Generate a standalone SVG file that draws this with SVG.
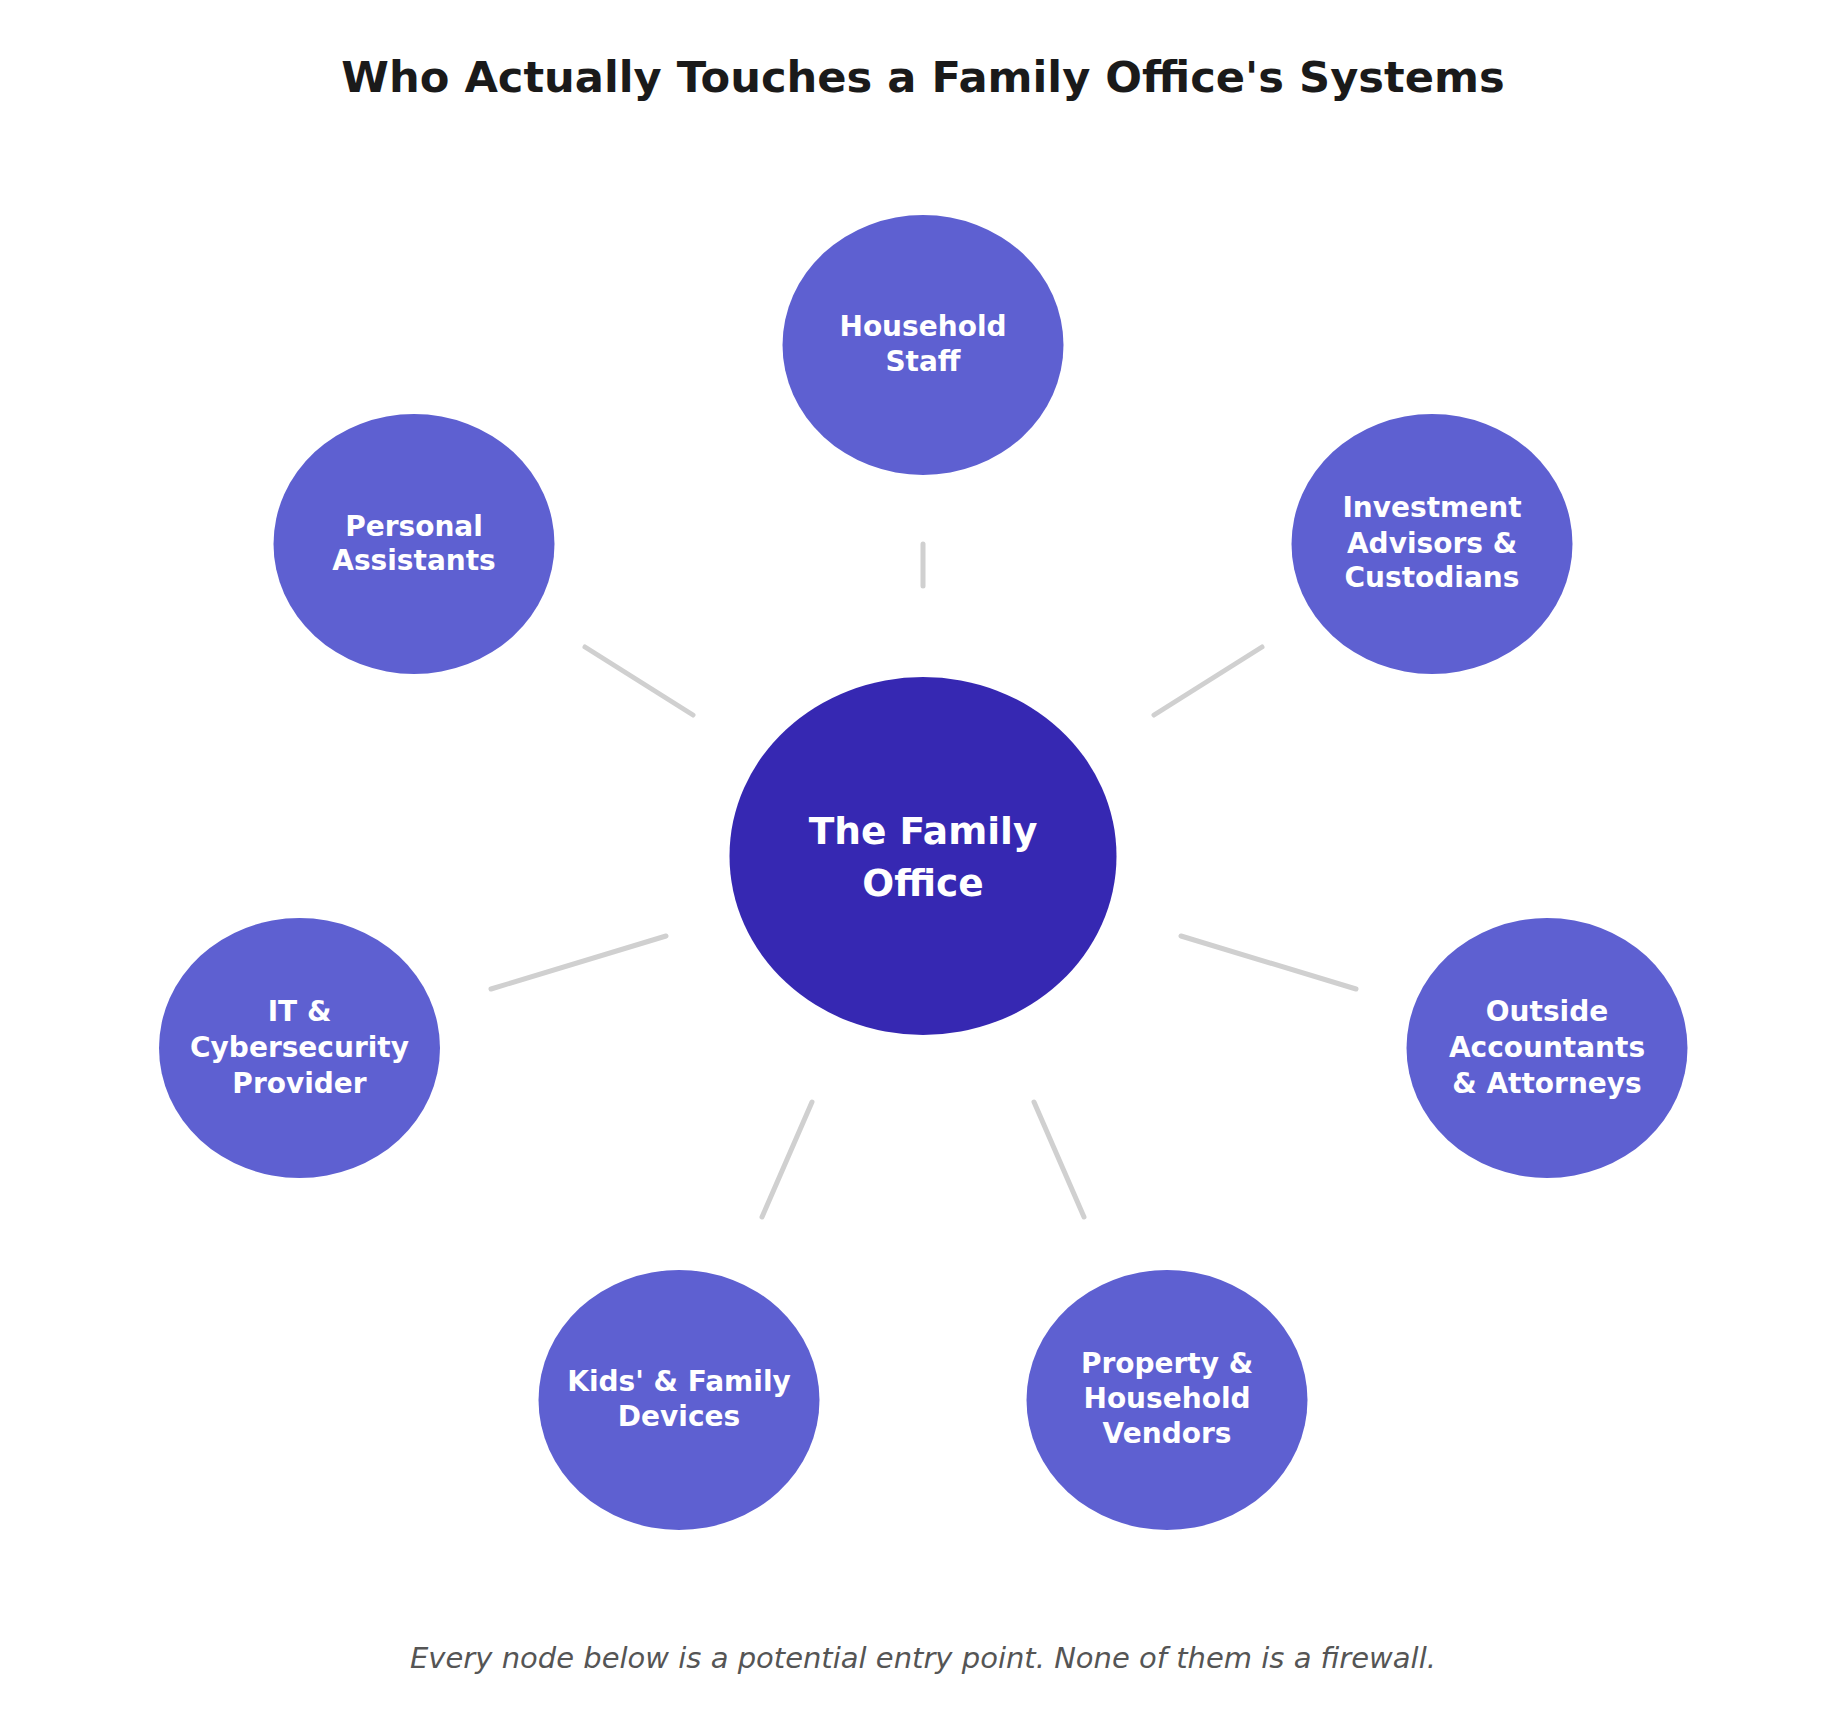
<svg xmlns="http://www.w3.org/2000/svg" width="1846" height="1726" viewBox="0 0 1846 1726">
<style>
text{font-family:"DejaVu Sans","Liberation Sans",sans-serif;text-anchor:middle}
.title{font-size:43.2px;font-weight:bold;fill:#1a1a1a}
.hub{fill:#3628b2}
.sat{fill:#5e60d1}
.hubt{font-size:37.5px;font-weight:bold;fill:#ffffff}
.satt{font-size:28px;font-weight:bold;fill:#ffffff}
.foot{font-size:29px;font-style:italic;fill:#555555}
.conn line{stroke:#d0d0d0;stroke-width:5;stroke-linecap:round}
</style>
<rect width="1846" height="1726" fill="#ffffff"/>
<text class="title" x="923" y="92">Who Actually Touches a Family Office's Systems</text>
<g id="connectors" class="conn">
<line x1="923" y1="544" x2="923" y2="586"/>
<line x1="1262" y1="647" x2="1154" y2="715"/>
<line x1="585" y1="647" x2="693" y2="715"/>
<line x1="1181" y1="936" x2="1356" y2="989"/>
<line x1="666" y1="936" x2="491" y2="989"/>
<line x1="812" y1="1102" x2="762" y2="1217"/>
<line x1="1034" y1="1102" x2="1084" y2="1217"/>
</g>
<g id="family-office">
<ellipse class="hub" cx="923" cy="856" rx="193.5" ry="179"/>
<text class="hubt" x="923" y="844">The Family</text>
<text class="hubt" x="923" y="896">Office</text>
</g>
<g id="household-staff">
<ellipse class="sat" cx="923" cy="345" rx="140.5" ry="130"/>
<text class="satt" x="923" y="336">Household</text>
<text class="satt" x="923" y="371">Staff</text>
</g>
<g id="investment-advisors">
<ellipse class="sat" cx="1432" cy="544" rx="140.5" ry="130"/>
<text class="satt" x="1432" y="517">Investment</text>
<text class="satt" x="1432" y="553">Advisors &amp;</text>
<text class="satt" x="1432" y="587">Custodians</text>
</g>
<g id="outside-accountants">
<ellipse class="sat" cx="1547" cy="1048" rx="140.5" ry="130"/>
<text class="satt" x="1547" y="1021">Outside</text>
<text class="satt" x="1547" y="1057">Accountants</text>
<text class="satt" x="1547" y="1093">&amp; Attorneys</text>
</g>
<g id="property-vendors">
<ellipse class="sat" cx="1167" cy="1400" rx="140.5" ry="130"/>
<text class="satt" x="1167" y="1373">Property &amp;</text>
<text class="satt" x="1167" y="1408">Household</text>
<text class="satt" x="1167" y="1443">Vendors</text>
</g>
<g id="kids-devices">
<ellipse class="sat" cx="679" cy="1400" rx="140.5" ry="130"/>
<text class="satt" x="679" y="1391">Kids' &amp; Family</text>
<text class="satt" x="679" y="1426">Devices</text>
</g>
<g id="it-provider">
<ellipse class="sat" cx="299.5" cy="1048" rx="140.5" ry="130"/>
<text class="satt" x="299.5" y="1021">IT &amp;</text>
<text class="satt" x="299.5" y="1057">Cybersecurity</text>
<text class="satt" x="299.5" y="1093">Provider</text>
</g>
<g id="personal-assistants">
<ellipse class="sat" cx="414" cy="544" rx="140.5" ry="130"/>
<text class="satt" x="414" y="536">Personal</text>
<text class="satt" x="414" y="570">Assistants</text>
</g>
<text class="foot" x="923" y="1668">Every node below is a potential entry point. None of them is a firewall.</text>
</svg>
